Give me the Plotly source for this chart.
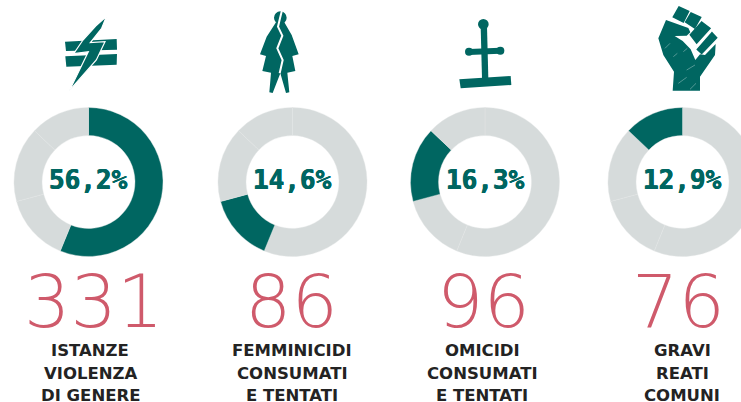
import plotly.graph_objects as go

# ---- data ----
categories = [["ISTANZE", "VIOLENZA", "DI GENERE"], ["FEMMINICIDI", "CONSUMATI", "E TENTATI"],
              ["OMICIDI", "CONSUMATI", "E TENTATI"], ["GRAVI", "REATI", "COMUNI"]]
slice_names = ["Istanze violenza di genere", "Femminicidi", "Omicidi", "Gravi reati comuni"]
counts = [331, 86, 96, 76]
percent_labels = ["56,2%", "14,6%", "16,3%", "12,9%"]
count_labels = ["331", "86", "96", "76"]

# ---- layout / style ----
W, H = 760, 402
TEAL, GREY, PINK, INK = "#006661", "#d6dbdb", "#cf5a6b", "#232323"
centers = [88.5, 292.5, 485, 682.5]
cy, R = 182, 74.5
label_centers = [90, 292, 482, 682]
count_centers = [93.5, 291, 483, 678]
label_ys = [350.5, 373, 395.5]

fig = go.Figure()
for i, c in enumerate(centers):
    fig.add_trace(go.Pie(
        labels=slice_names, values=counts, sort=False, direction="clockwise", rotation=0,
        hole=0.624, textinfo="none", hoverinfo="label+value", showlegend=False,
        marker=dict(colors=[TEAL if j == i else GREY for j in range(4)],
                    line=dict(color="#e2e6e6", width=0.4)),
        domain=dict(x=[(c - R) / W, (c + R) / W], y=[1 - (cy + R) / H, 1 - (cy - R) / H]),
    ))

def note(text, x, y, size, color, family, weight=400, shadow=None):
    font = dict(size=size, color=color, family=family, weight=weight)
    if shadow:
        font["shadow"] = shadow
    fig.add_annotation(text=text, x=x / W, y=1 - y / H, xref="paper", yref="paper", showarrow=False,
                       xanchor="center", yanchor="middle", font=font)

for i, c in enumerate(centers):
    note(percent_labels[i], c, 180, 26, TEAL, "DejaVu Sans Mono", 700,
         shadow=f"0.4px 0 0 {TEAL}, -0.4px 0 0 {TEAL}")
    note(count_labels[i], count_centers[i], 301, 73, PINK, "DejaVu Sans", 200)
    for line, y in zip(categories[i], label_ys):
        note(line, label_centers[i], y, 16.5, INK, "DejaVu Sans", 700)

# ---- decorative icons, drawn as shapes ----
shapes = []
def conv(pts, ox, oy):
    return [((ox + x / 3) / W, 1 - (oy + y / 3) / H) for x, y in pts]

def poly(pts, ox, oy, fill=TEAL, line=None, lw=0, closed=True):
    p = conv(pts, ox, oy)
    d = "M" + " L".join(f"{x:.5f},{y:.5f}" for x, y in p) + (" Z" if closed else "")
    shapes.append(dict(type="path", path=d, xref="paper", yref="paper", layer="above",
                       fillcolor=fill if closed else "rgba(0,0,0,0)",
                       line=dict(color=line or fill, width=lw)))

def circle(cx, cyy, r, ox, oy, fill=TEAL):
    x0, y0 = conv([(cx - r, cyy - r)], ox, oy)[0]
    x1, y1 = conv([(cx + r, cyy + r)], ox, oy)[0]
    shapes.append(dict(type="circle", xref="paper", yref="paper", x0=x0, x1=x1, y0=y0, y1=y1,
                       fillcolor=fill, line=dict(width=0), layer="above"))

# unequal sign with bolt
o = (55, 10)
poly([(30, 95), (185, 87), (186, 119), (33, 123)], *o)
poly([(31, 139), (186, 132), (185, 164), (34, 170)], *o)
poly([(154, 20), (122, 48), (84, 90), (56, 131), (100, 125), (43, 242), (124, 150), (150, 95), (106, 98), (140, 55)], *o,
     line="#ffffff", lw=1.2)

# woman
o = (250, 5)
circle(91, 38, 19, *o)
poly([(78, 52), (103, 52), (125, 90), (146, 148), (127, 153), (136, 198), (112, 203), (118, 262), (108, 264),
      (91, 205), (68, 264), (58, 262), (63, 203), (37, 198), (48, 153), (30, 148), (50, 95)], *o, lw=0)
poly([(96, 16), (90, 40), (84, 65), (97, 92), (82, 130), (98, 165), (89, 205)], *o, line="#ffffff", lw=2, closed=False)

# cross
o = (450, 10)
circle(100, 43, 16, *o)
circle(57, 125, 12, *o)
circle(151, 122, 12, *o)
poly([(92, 50), (111, 50), (115, 205), (96, 205)], *o)
poly([(57, 117), (150, 113), (150, 131), (57, 135)], *o)
poly([(28, 208), (182, 198), (184, 225), (32, 235)], *o)

# fist
o = (650, 0)
poly([(87, 21), (116, 34), (100, 66), (70, 51)], *o, line=TEAL, lw=1.5)
poly([(123, 39), (152, 52), (134, 84), (107, 66)], *o, line=TEAL, lw=1.5)
poly([(155, 66), (180, 85), (140, 129), (121, 104)], *o, line=TEAL, lw=1.5)
poly([(186, 98), (200, 113), (155, 160), (142, 148)], *o, line=TEAL, lw=1.5)
poly([(25, 115), (48, 60), (115, 84), (121, 97), (110, 107), (74, 108), (98, 123), (122, 148), (136, 180),
      (150, 163), (165, 165), (197, 132), (195, 165), (150, 230), (150, 272), (68, 272), (72, 215), (40, 165)], *o)
for a, b in [((110, 210), (135, 195)), ((85, 250), (110, 232)), ((45, 145), (60, 130)), ((100, 155), (112, 145)),
             ((120, 268), (138, 250)), ((70, 170), (82, 160))]:
    poly([a, b], *o, line="rgba(255,255,255,0.55)", lw=0.6, closed=False)

fig.update_layout(width=W, height=H, autosize=False, margin=dict(l=0, r=0, t=0, b=0),
                  paper_bgcolor="white", plot_bgcolor="white", showlegend=False, shapes=shapes)

fig.write_html("out.html", config=dict(displayModeBar=False, responsive=False),
               post_script="document.documentElement.style.overflow='hidden';document.body.style.margin='0';")
